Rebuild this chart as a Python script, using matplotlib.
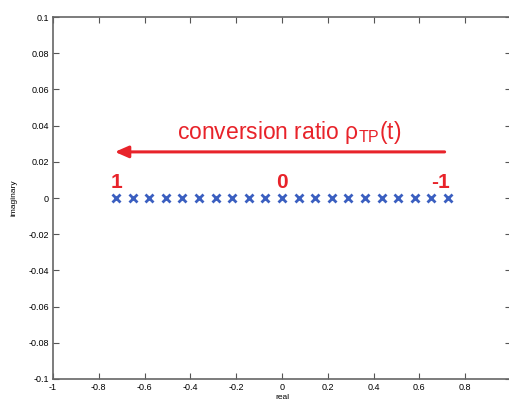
import numpy as np
import matplotlib
matplotlib.use('Agg')
import matplotlib.pyplot as plt

# poles on the real axis (imaginary part zero)
real_part = [-0.725, -0.6525, -0.58, -0.5075, -0.435, -0.3625, -0.29, -0.2175,
             -0.145, -0.0725, 0.0, 0.0725, 0.145, 0.2175, 0.29, 0.3625, 0.435,
             0.5075, 0.58, 0.6525, 0.725]
imag_part = [0.0] * len(real_part)

xticks = [-1, -0.8, -0.6, -0.4, -0.2, 0, 0.2, 0.4, 0.6, 0.8, 1]
xticklabels = ['-1', '-0.8', '-0.6', '-0.4', '-0.2', '0', '0.2', '0.4', '0.6', '0.8', '1']
yticks = [-0.1, -0.08, -0.06, -0.04, -0.02, 0, 0.02, 0.04, 0.06, 0.08, 0.1]
yticklabels = ['-0.1', '-0.08', '-0.06', '-0.04', '-0.02', '0', '0.02', '0.04', '0.06', '0.08', '0.1']

# end labels of the ratio
ratio_labels = ['1', '0', '-1']
ratio_x = [-0.725, 0.0, 0.69]

plt.rcParams['font.family'] = ['Liberation Sans', 'DejaVu Sans']

fig = plt.figure(figsize=(5.1, 4.03), dpi=100)
ax = fig.add_axes([0.104, 0.0596, 0.898, 0.898])

ax.plot(real_part, imag_part, 'x', color='#3b5fc0', markersize=5.5, markeredgewidth=2)

ax.set_xlim(-1, 1)
ax.set_ylim(-0.1, 0.1)
ax.set_xticks(xticks)
ax.set_xticklabels(xticklabels)
ax.set_yticks(yticks)
ax.set_yticklabels(yticklabels)
ax.tick_params(direction='in', length=4, width=0.8, color='#555555', labelsize=6.5,
               top=True, right=True, pad=3)
for s in ax.spines.values():
  s.set_color('#666666')
  s.set_linewidth(1.2)

ax.set_xlabel('real', fontsize=6, labelpad=1)
ax.set_ylabel('imaginary', fontsize=6, labelpad=8)

red = '#e8232a'
ax.annotate('', xy=(-0.73, 0.0255), xytext=(0.71, 0.0255),
            arrowprops=dict(arrowstyle='-|>,head_length=0.8,head_width=0.35',
                            color=red, lw=2.2, shrinkA=0, shrinkB=0))
ax.text(0.03, 0.036, 'conversion ratio ρ$_{\\mathregular{TP}}$(t)', color=red,
        fontsize=16.5, ha='center', va='center')
for lab, x in zip(ratio_labels, ratio_x):
  ax.text(x, 0.0085, lab, color=red, fontsize=15, fontweight='bold',
          ha='center', va='center')

fig.savefig('out.png', dpi=100)
